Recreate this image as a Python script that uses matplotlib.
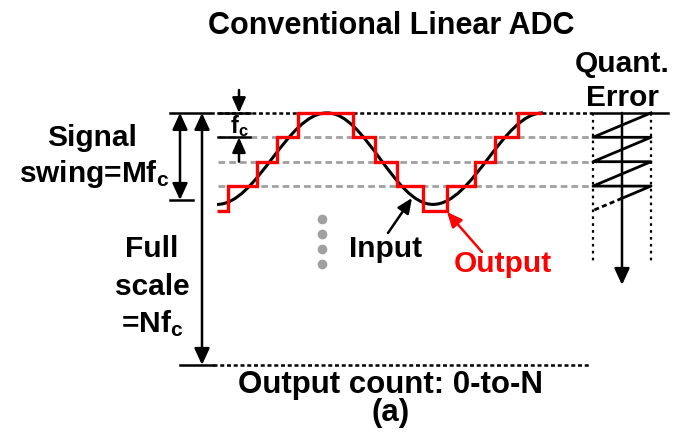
import matplotlib
matplotlib.use('Agg')
import matplotlib.pyplot as plt
from matplotlib.path import Path
from matplotlib.patches import PathPatch, FancyArrowPatch

plt.rcParams['font.family'] = ['Liberation Sans', 'DejaVu Sans']
plt.rcParams['font.weight'] = 'bold'
plt.rcParams['mathtext.fontset'] = 'custom'
plt.rcParams['mathtext.rm'] = 'Liberation Sans:bold'
plt.rcParams['mathtext.bf'] = 'Liberation Sans:bold'
plt.rcParams['mathtext.it'] = 'Liberation Sans:bold'

# ---------------- data (levels in units of fc) ----------------
title = "Conventional Linear ADC"
threshold_levels = [1, 2, 3]          # gray decision levels
top_level = 4                          # top of signal swing / full scale
# quantized output: step edges (time) and output codes
out_edges = [217, 228, 257, 277, 298, 353, 375, 397, 423, 447, 475, 495, 518, 542]
out_codes = [0, 1, 2, 3, 4, 3, 2, 1, 0, 1, 2, 3, 4]
# sinusoidal input: extremes (time, level)
in_ext_t = [217, 327, 433, 543]
in_ext_v = [0.25, 4.0, 0.25, 4.0]
# quantization error sawtooth levels
err_levels = [4, 3, 2, 1]

# ---------------- figure / coordinates ----------------
W, H = 681, 440
Y0, S = 210.5, 24.4            # pixel row of level 0, pixels per level


def py(p):
    """pixel row -> level coordinate (layout helper)"""
    return (Y0 - p) / S


fig = plt.figure(figsize=(W / 100, H / 100), dpi=100)
ax = fig.add_axes([0, 0, 1, 1])
ax.set_xlim(0, W)
ax.set_ylim(py(H), py(0))
ax.axis('off')

FS = 21.5
BLACK = 'black'
GRAY = '#a0a0a0'
RED = '#ff0000'


def arrow(x0, y0, x1, y1, color=BLACK, style='-|>', lw=1.8, hl=0.5, hw=0.23):
    a = FancyArrowPatch((x0, y0), (x1, y1),
                        arrowstyle=f'{style},head_length={hl},head_width={hw}',
                        mutation_scale=20, lw=lw, color=color,
                        shrinkA=0, shrinkB=0, zorder=5)
    ax.add_patch(a)


# threshold lines (gray dashed)
for lv in threshold_levels:
    ax.plot([218, 593], [lv, lv], color=GRAY, lw=2.0,
            linestyle=(0, (2.4, 1.45)), zorder=1)

# top line: dashed black then solid over the error plot
ax.plot([218, 592], [top_level, top_level], color=BLACK, lw=1.8,
        linestyle=(0, (1.6, 1.1)), zorder=1)
ax.plot([592, 668], [top_level, top_level], color=BLACK, lw=1.8, zorder=2)
ax.plot([170, 213], [top_level, top_level], color=BLACK, lw=1.8)

# bottom (full-scale) line
fs_bot = py(365)
ax.plot([180, 213], [fs_bot, fs_bot], color=BLACK, lw=1.8)
ax.plot([213, 590], [fs_bot, fs_bot], color=BLACK, lw=1.8,
        linestyle=(0, (1.6, 1.1)))

# signal swing arrow
sw_bot = py(200)
ax.plot([170, 193], [sw_bot, sw_bot], color=BLACK, lw=1.8)
arrow(180, top_level, 180, sw_bot, style='<|-|>')
# full scale arrow
arrow(202, top_level, 202, fs_bot, style='<|-|>')

# fc marker
ax.plot([218, 250], [top_level, top_level], color=BLACK, lw=1.8, zorder=3)
ax.plot([218, 250], [top_level - 1, top_level - 1], color=BLACK, lw=1.8, zorder=3)
arrow(239, py(90), 239, top_level, hl=0.45, hw=0.2)
arrow(239, top_level - 2, 239, top_level - 1, hl=0.45, hw=0.2)
ax.text(239, py(133), r"f$_{\rm c}$", fontsize=17, ha='center', va='baseline')

# input sine (cubic Bezier between extremes)
k = 0.3642
verts = [(in_ext_t[0], in_ext_v[0])]
codes = [Path.MOVETO]
for i in range(len(in_ext_t) - 1):
    t0, v0, t1, v1 = in_ext_t[i], in_ext_v[i], in_ext_t[i + 1], in_ext_v[i + 1]
    dt = t1 - t0
    verts += [(t0 + k * dt, v0), (t1 - k * dt, v1), (t1, v1)]
    codes += [Path.CURVE4] * 3
ax.add_patch(PathPatch(Path(verts, codes), fill=False, ec=BLACK, lw=2.2, zorder=3))

# quantized output
ax.stairs(out_codes, out_edges, baseline=None, color=RED, lw=2.4, zorder=4)

# gray dots
for p in [219, 234, 249, 264]:
    ax.plot([322], [py(p)], 'o', ms=7, color=GRAY, mec='none')

# Input / Output labels and arrows
arrow(388, py(233), 412, py(198), hl=0.45, hw=0.2)
ax.text(386, py(257), "Input", fontsize=FS, ha='center', va='baseline')
arrow(482, py(252), 447, py(212), color=RED, hl=0.45, hw=0.2)
ax.text(503, py(272), "Output", fontsize=FS, ha='center', va='baseline', color=RED)

# quantization error plot
ax.plot([593, 593], [top_level, py(262)], color=BLACK, lw=1.6, linestyle=(0, (1.2, 1.9)))
ax.plot([651, 651], [top_level, py(262)], color=BLACK, lw=1.6, linestyle=(0, (1.2, 1.9)))
arrow(622, top_level, 622, py(285))
xs, ys = [651], [err_levels[0]]
for lv in err_levels[1:]:
    xs += [593, 651]
    ys += [lv, lv]
xs.append(622)
ys.append(err_levels[-1] - 0.5)
ax.plot(xs, ys, color=BLACK, lw=2.0, zorder=4)
ax.plot([622, 593], [err_levels[-1] - 0.5, err_levels[-1] - 1],
        color=BLACK, lw=2.0, linestyle=(0, (1.8, 1.2)))

# texts
ax.text(391, py(34), title, fontsize=22, ha='center', va='baseline')
ax.text(622, py(72), "Quant.", fontsize=FS, ha='center', va='baseline')
ax.text(622, py(106), "Error", fontsize=FS, ha='center', va='baseline')
ax.text(92, py(146), "Signal", fontsize=FS, ha='center', va='baseline')
ax.text(94, py(182), r"swing=Mf$_{\rm c}$", fontsize=FS, ha='center', va='baseline')
ax.text(152, py(257), "Full", fontsize=FS, ha='center', va='baseline')
ax.text(152, py(295), "scale", fontsize=FS, ha='center', va='baseline')
ax.text(152, py(332), r"=Nf$_{\rm c}$", fontsize=FS, ha='center', va='baseline')
ax.text(391, py(421), "Output count: 0-to-N\n(a)", fontsize=22.5, ha='center',
        va='baseline', multialignment='center', linespacing=0.9)

fig.savefig('out.png', dpi=100)
